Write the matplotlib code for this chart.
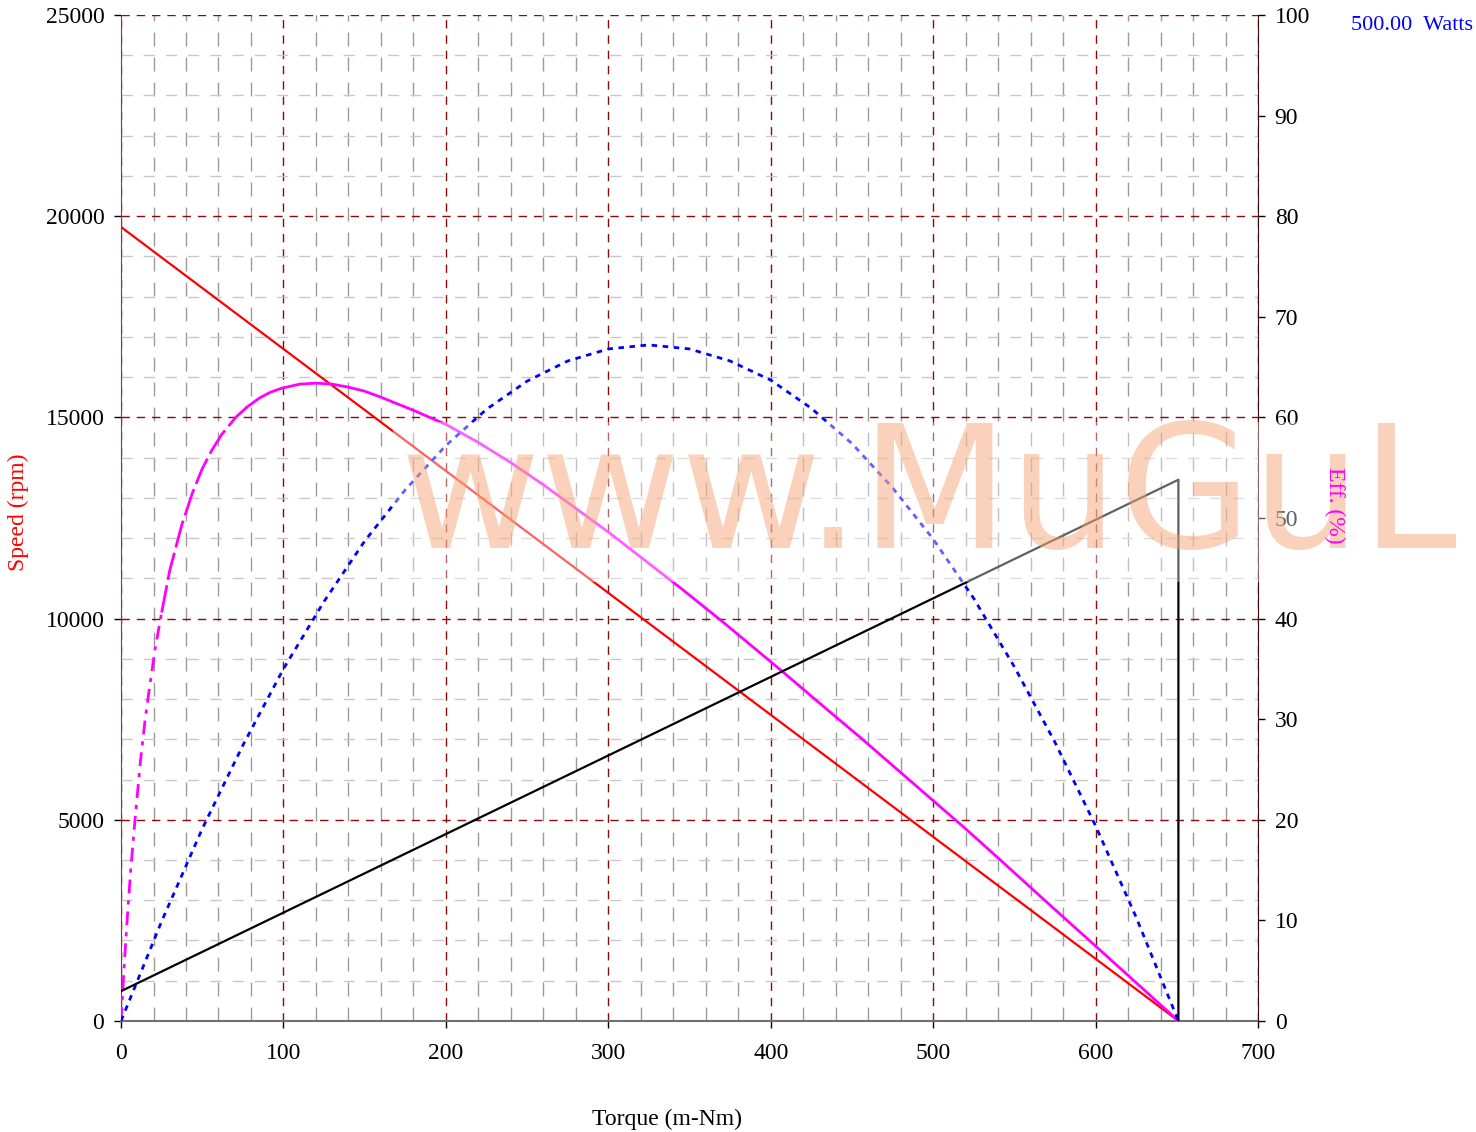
import matplotlib
matplotlib.use('Agg')
import matplotlib.pyplot as plt
from matplotlib.ticker import MultipleLocator
from matplotlib.patches import Rectangle

plt.rcParams['font.family'] = ['Liberation Serif', 'DejaVu Serif']

# speed line (rpm, left axis)
speed_torque = [0, 651]
speed_rpm = [19730, 0]

# efficiency (%), right axis
eff_torque = [0, 0.6, 2, 4, 6, 8.6, 12, 15, 18.3, 21, 25, 30, 37.4, 44, 50, 55.8,
              62, 70.6, 77.4, 85, 92, 99, 110, 120, 130, 140, 150, 160, 180, 200,
              220, 240, 260, 283, 300, 320, 344, 371, 406, 430, 455, 480, 500, 520,
              540, 570, 601, 625, 651]
eff_pct = [0, 1.8, 5.6, 10.6, 15.1, 20.0, 25.9, 30.2, 34.0, 37.0, 40.6, 44.8, 49.3,
           52.5, 54.9, 56.7, 58.3, 60.0, 61.0, 61.9, 62.5, 62.9, 63.3, 63.4, 63.3,
           63.0, 62.6, 62.0, 60.7, 59.3, 57.5, 55.5, 53.3, 50.6, 48.6, 46.1, 43.1,
           39.6, 34.9, 31.6, 28.2, 24.7, 21.9, 19.1, 16.2, 11.8, 7.3, 3.8, 0]

# output power, right axis (100 = 500 W)
pow_torque = [0, 25, 50, 75, 100, 125, 150, 175, 200, 225, 250, 275, 300, 325,
              350, 375, 400, 425, 450, 475, 500, 525, 550, 575, 600, 625, 651]
pow_pct = [0, 9.9, 19.1, 27.4, 35.0, 41.7, 47.7, 52.8, 57.2, 60.8, 63.6, 65.6,
           66.8, 67.2, 66.8, 65.6, 63.7, 60.9, 57.4, 53.0, 47.9, 42.0, 35.2, 27.7,
           19.4, 10.3, 0]

# current line, right axis
cur_torque = [0, 651, 651]
cur_val = [2.96, 53.8, 0]

fig = plt.figure(figsize=(14.76, 11.32), dpi=100)
ax1 = fig.add_axes([0.0820, 0.0981, 0.7703, 0.8887])
ax2 = ax1.twinx()

ax1.set_xlim(0, 700)
ax1.set_ylim(0, 25000)
ax2.set_ylim(0, 100)

ax1.xaxis.set_major_locator(MultipleLocator(100))
ax1.xaxis.set_minor_locator(MultipleLocator(20))
ax1.yaxis.set_major_locator(MultipleLocator(5000))
ax1.yaxis.set_minor_locator(MultipleLocator(1000))
ax2.yaxis.set_major_locator(MultipleLocator(10))

ax1.xaxis.grid(True, which='minor', color='#9a9a9a', lw=1, dashes=(10, 8))
ax1.yaxis.grid(True, which='minor', color='#c8c8c8', lw=1, dashes=(8, 8))
ax1.xaxis.grid(True, which='major', color='#8b0a0a', lw=1, dashes=(6, 5))
ax1.yaxis.grid(True, which='major', color='#8b0a0a', lw=1, dashes=(6, 5))
ax1.set_axisbelow(True)

for a in (ax1, ax2):
    a.tick_params(which='minor', length=0)
    a.tick_params(which='major', length=5, width=1, labelsize=17, pad=7, colors='black')
    a.spines['top'].set_visible(False)
ax1.tick_params(axis='x', pad=11)
ax1.spines['left'].set_color('#505050')
ax1.spines['bottom'].set_color('#707070')
ax1.spines['bottom'].set_linewidth(1.5)
ax2.spines['right'].set_color('#3a0a0a')
ax2.spines['left'].set_visible(False)
ax2.spines['bottom'].set_visible(False)
ax1.spines['right'].set_visible(False)

ax1.plot(speed_torque, speed_rpm, color='red', lw=1.6)

# efficiency: dashed on the steep start, solid further on
ax2.plot(eff_torque[:11], eff_pct[:11], color='magenta', lw=2, dashes=(5, 2.5, 1.5, 2.5))
ax2.plot(eff_torque[10:19], eff_pct[10:19], color='magenta', lw=2, dashes=(10, 2))
ax2.plot(eff_torque[18:], eff_pct[18:], color='magenta', lw=2)

ax2.plot(pow_torque, pow_pct, color='blue', lw=2, dashes=(2, 2))
ax2.plot(cur_torque, cur_val, color='black', lw=1.6)

# watermark
fig.add_artist(Rectangle((0.2663, 0.4859), 0.7337, 0.1413, transform=fig.transFigure,
                         facecolor='white', edgecolor='none', alpha=0.38, zorder=3))
fig.text(0.271, 0.5159, 'www.MuGuL', family='DejaVu Sans', fontsize=124,
         color='#f5a070', alpha=0.47, ha='left', va='baseline', zorder=4)

fig.text(18 / 1476, 1 - 512 / 1132, 'Speed (rpm)', color='red', fontsize=17,
         rotation=90, ha='center', va='center')
fig.text(1335 / 1476, 1 - 505 / 1132, 'Eff. (%)', color='magenta', fontsize=17,
         rotation=-90, ha='center', va='center', zorder=10)
fig.text(1473 / 1476, 1 - 25 / 1132, '500.00  Watts', color='blue', fontsize=16,
         ha='right', va='center')
fig.text(667 / 1476, 1 - 1119 / 1132, 'Torque (m-Nm)', color='black', fontsize=17,
         ha='center', va='center')

fig.savefig('out.png', dpi=100)
